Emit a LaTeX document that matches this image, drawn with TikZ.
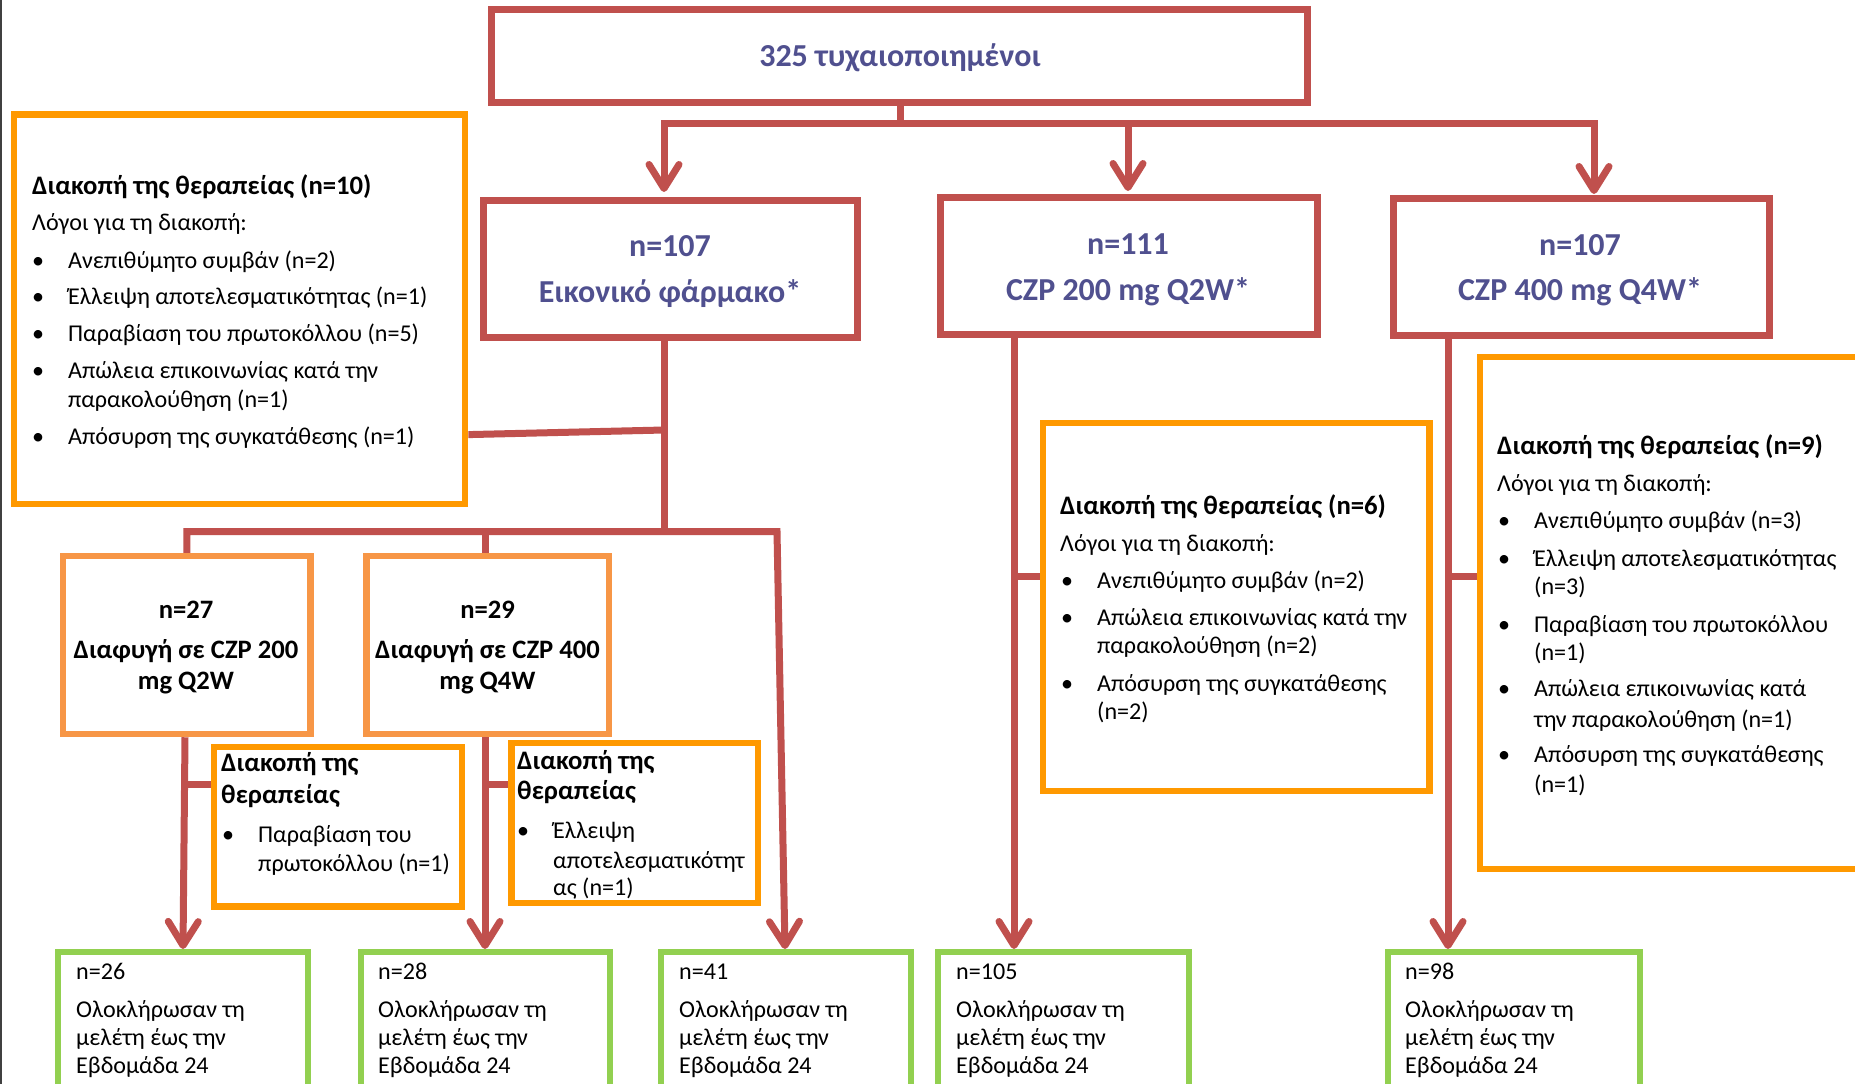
\documentclass[tikz,border=0pt]{standalone}
\usepackage{fontspec}
\setmainfont{Carlito}
\usetikzlibrary{arrows.meta}
\definecolor{cred}{RGB}{192,80,77}
\definecolor{corange}{RGB}{255,153,0}
\definecolor{clorange}{RGB}{247,150,70}
\definecolor{cgreen}{RGB}{146,208,80}
\definecolor{cblue}{RGB}{80,80,143}
\begin{document}
\begin{tikzpicture}[x=1pt,y=-1pt,
  box/.style={draw=#1, rectangle, inner sep=0pt, fill=white},
  redbox/.style={box=cred, line width=7pt},
  orbox/.style={box=corange, line width=6.8pt},
  lorbox/.style={box=clorange, line width=6.5pt},
  grbox/.style={box=cgreen, line width=6pt},
  conn/.style={draw=cred, line width=7pt, line join=miter},
  arrowed/.style={conn, -{Straight Barb[length=24pt,width=30pt,round]}},
  txt/.style={anchor=base west, inner sep=0pt, font=\fontsize{24.1}{28}\selectfont},
  bld/.style={anchor=base west, inner sep=0pt, font=\fontsize{26.7}{30}\selectfont\bfseries},
  ctr/.style={anchor=base, inner sep=0pt, font=\fontsize{26.6}{30}\selectfont\bfseries},
  hdr/.style={anchor=base, inner sep=0pt, text=cblue, font=\fontsize{32}{36}\selectfont\bfseries}
]
\clip (0,0) rectangle (1855,1084);
\fill[white] (0,0) rectangle (1855,1084);
\draw[black!75, line width=1.5pt] (0.75,0) -- (0.75,1084);

% ---------- boxes ----------
\node[redbox, minimum width=816.5pt, minimum height=92.5pt] (top) at (899.25,55.75) {};
\node[redbox, minimum width=374pt, minimum height=136.5pt] (pl) at (670,268.75) {};
\node[redbox, minimum width=376.5pt, minimum height=136.8pt] (c2) at (1128.75,266.1) {};
\node[redbox, minimum width=376.7pt, minimum height=137pt] (c4) at (1581.35,267) {};
\node[orbox, minimum width=451pt, minimum height=389.5pt] (n10) at (239.5,309.25) {};
\node[lorbox, minimum width=247.7pt, minimum height=178pt] (n27) at (186.85,645) {};
\node[lorbox, minimum width=242.5pt, minimum height=178pt] (n29) at (487.75,645) {};
\node[orbox, minimum width=248pt, minimum height=159.7pt] (d1) at (338,826.85) {};
\node[orbox, minimum width=246.5pt, minimum height=160pt] (d2) at (634.75,823) {};
\node[orbox, minimum width=386.5pt, minimum height=368pt] (n6) at (1236.25,607) {};
\node[orbox, minimum width=420pt, minimum height=512pt] (n9) at (1690,613) {};
\node[grbox, minimum width=249.5pt, minimum height=168pt] (g1) at (182.75,1036) {};
\node[grbox, minimum width=249.5pt, minimum height=168pt] (g2) at (485.25,1036) {};
\node[grbox, minimum width=250.5pt, minimum height=168pt] (g3) at (785.75,1036) {};
\node[grbox, minimum width=251pt, minimum height=168pt] (g4) at (1063,1036) {};
\node[grbox, minimum width=252pt, minimum height=168pt] (g5) at (1514,1036) {};

% ---------- coordinates ----------
\coordinate (j0) at (900,123.3);
\coordinate (a1) at (664,192);
\coordinate (a2) at (1128,191);
\coordinate (a3) at (1594,194);
\coordinate (j1) at (664,531.5);
\coordinate (k1) at (664,430);
\coordinate (j2) at (777,531.5);
\coordinate (j3) at (485,531.5);

% ---------- connectors ----------
\draw[conn] (top.south -| j0) -- (j0);
\draw[arrowed] (j0) -| (a1);
\draw[arrowed] (j0) -| (a3);
\draw[arrowed] (j0 -| a2) -- (a2);
\draw[conn] (pl.south -| j1) -- (j1);
\draw[conn] (n10.east |- 0,434.6) -- (k1);
\draw[arrowed] (n27.north) |- (j2) -- (g3.north -| 785,0);
\draw[conn] (j3) -- (n29.north -| j3);
\draw[arrowed] (n27.south -| 185,0) -- (g1.north -| 183,0);
\draw[arrowed] (n29.south -| j3) -- (g2.north -| j3);
\draw[conn] (185,784.5) -- (d1.west |- 0,784.5);
\draw[conn] (j3 |- 0,784.6) -- (d2.west |- 0,784.6);
\draw[arrowed] (c2.south -| 1014,0) -- (g4.north -| 1014,0);
\draw[conn] (1014,576.4) -- (n6.west |- 0,576.4);
\draw[arrowed] (c4.south -| 1448,0) -- (g5.north -| 1448,0);
\draw[conn] (1448,576.4) -- (n9.west |- 0,576.4);

% ---------- top texts ----------
\node[hdr] (ttop) at (900,66) {325 τυχαιοποιημένοι};
\node[hdr] (tpl1) at (670,256.5) {n=107};
\node[hdr] (tpl2) at (670,302) {Εικονικό φάρμακο*};
\node[hdr] (tc21) at (1128,254) {n=111};
\node[hdr] (tc22) at (1128,300.6) {CZP 200 mg Q2W*};
\node[hdr] (tc41) at (1580,255.5) {n=107};
\node[hdr] (tc42) at (1580,300.6) {CZP 400 mg Q4W*};

% ---------- n=10 box ----------
\node[bld] (a0) at (32,194.5) {Διακοπή της θεραπείας (n=10)};
\node[txt] (a1t) at (32,230.7) {Λόγοι για τη διακοπή:};
\node[txt] (ab1) at (32,268.6) {•};
\node[txt] (ai1) at (68,268.6) {Ανεπιθύμητο συμβάν (n=2)};
\node[txt] (ab2) at (32,304.8) {•};
\node[txt] (ai2) at (68,304.8) {Έλλειψη αποτελεσματικότητας (n=1)};
\node[txt] (ab3) at (32,341) {•};
\node[txt] (ai3) at (68,341) {Παραβίαση του πρωτοκόλλου (n=5)};
\node[txt] (ab4) at (32,378.8) {•};
\node[txt] (ai4) at (68,378.8) {Απώλεια επικοινωνίας κατά την};
\node[txt] (ai4b) at (68,407.4) {παρακολούθηση (n=1)};
\node[txt] (ab5) at (32,444) {•};
\node[txt] (ai5) at (68,444) {Απόσυρση της συγκατάθεσης (n=1)};

% ---------- n=27 / n=29 ----------
\node[ctr] (b1) at (186,618) {n=27};
\node[ctr] (b2) at (186,658) {Διαφυγή σε CZP 200};
\node[ctr] (b3) at (186,689) {mg Q2W};
\node[ctr] (c1t) at (487.5,618) {n=29};
\node[ctr] (c2t) at (487.5,658) {Διαφυγή σε CZP 400};
\node[ctr] (c3t) at (487.5,689) {mg Q4W};

% ---------- small discontinuation boxes ----------
\node[bld] (d1a) at (221,771.8) {Διακοπή της};
\node[bld] (d1b) at (221,803.7) {θεραπείας};
\node[txt] (d1c) at (222,842) {•};
\node[txt] (d1d) at (258,842) {Παραβίαση του};
\node[txt] (d1e) at (258,871.4) {πρωτοκόλλου (n=1)};
\node[bld] (d2a) at (517,769) {Διακοπή της};
\node[bld] (d2b) at (517,799.5) {θεραπείας};
\node[txt] (d2c) at (517,838.4) {•};
\node[txt] (d2d) at (553,838.4) {Έλλειψη};
\node[txt] (d2e) at (553,868) {αποτελεσματικότητ};
\node[txt] (d2f) at (553,895.7) {ας (n=1)};

% ---------- n=6 box ----------
\node[bld] (e0) at (1060,514.8) {Διακοπή της θεραπείας (n=6)};
\node[txt] (e1) at (1060,551) {Λόγοι για τη διακοπή:};
\node[txt] (eb1) at (1061,588.6) {•};
\node[txt] (ei1) at (1097,588.6) {Ανεπιθύμητο συμβάν (n=2)};
\node[txt] (eb2) at (1061,625) {•};
\node[txt] (ei2) at (1097,625) {Απώλεια επικοινωνίας κατά την};
\node[txt] (ei2b) at (1097,653.8) {παρακολούθηση (n=2)};
\node[txt] (eb3) at (1061,691) {•};
\node[txt] (ei3) at (1097,691) {Απόσυρση της συγκατάθεσης};
\node[txt] (ei3b) at (1097,719.7) {(n=2)};

% ---------- n=9 box ----------
\node[bld] (f0) at (1497,454.5) {Διακοπή της θεραπείας (n=9)};
\node[txt] (f1) at (1497,491) {Λόγοι για τη διακοπή:};
\node[txt] (fb1) at (1498,528.6) {•};
\node[txt] (fi1) at (1534,528.6) {Ανεπιθύμητο συμβάν (n=3)};
\node[txt] (fb2) at (1498,566) {•};
\node[txt] (fi2) at (1534,566) {Έλλειψη αποτελεσματικότητας};
\node[txt] (fi2b) at (1534,594.5) {(n=3)};
\node[txt] (fb3) at (1498,632) {•};
\node[txt] (fi3) at (1534,632) {Παραβίαση του πρωτοκόλλου};
\node[txt] (fi3b) at (1534,660.7) {(n=1)};
\node[txt] (fb4) at (1498,696.8) {•};
\node[txt] (fi4) at (1534,696.8) {Απώλεια επικοινωνίας κατά};
\node[txt] (fi4b) at (1534,727.4) {την παρακολούθηση (n=1)};
\node[txt] (fb5) at (1498,762) {•};
\node[txt] (fi5) at (1534,762) {Απόσυρση της συγκατάθεσης};
\node[txt] (fi5b) at (1534,792) {(n=1)};

% ---------- green boxes ----------
\node[txt] (h1a) at (76,979) {n=26};
\node[txt] (h1b) at (76,1017) {Ολοκλήρωσαν τη};
\node[txt] (h1c) at (76,1045) {μελέτη έως την};
\node[txt] (h1d) at (76,1073.6) {Εβδομάδα 24};
\node[txt] (h2a) at (378,979) {n=28};
\node[txt] (h2b) at (378,1017) {Ολοκλήρωσαν τη};
\node[txt] (h2c) at (378,1045) {μελέτη έως την};
\node[txt] (h2d) at (378,1073.6) {Εβδομάδα 24};
\node[txt] (h3a) at (679,979) {n=41};
\node[txt] (h3b) at (679,1017) {Ολοκλήρωσαν τη};
\node[txt] (h3c) at (679,1045) {μελέτη έως την};
\node[txt] (h3d) at (679,1073.6) {Εβδομάδα 24};
\node[txt] (h4a) at (956,979) {n=105};
\node[txt] (h4b) at (956,1017) {Ολοκλήρωσαν τη};
\node[txt] (h4c) at (956,1045) {μελέτη έως την};
\node[txt] (h4d) at (956,1073.6) {Εβδομάδα 24};
\node[txt] (h5a) at (1405,979) {n=98};
\node[txt] (h5b) at (1405,1017) {Ολοκλήρωσαν τη};
\node[txt] (h5c) at (1405,1045) {μελέτη έως την};
\node[txt] (h5d) at (1405,1073.6) {Εβδομάδα 24};
\end{tikzpicture}
\end{document}
